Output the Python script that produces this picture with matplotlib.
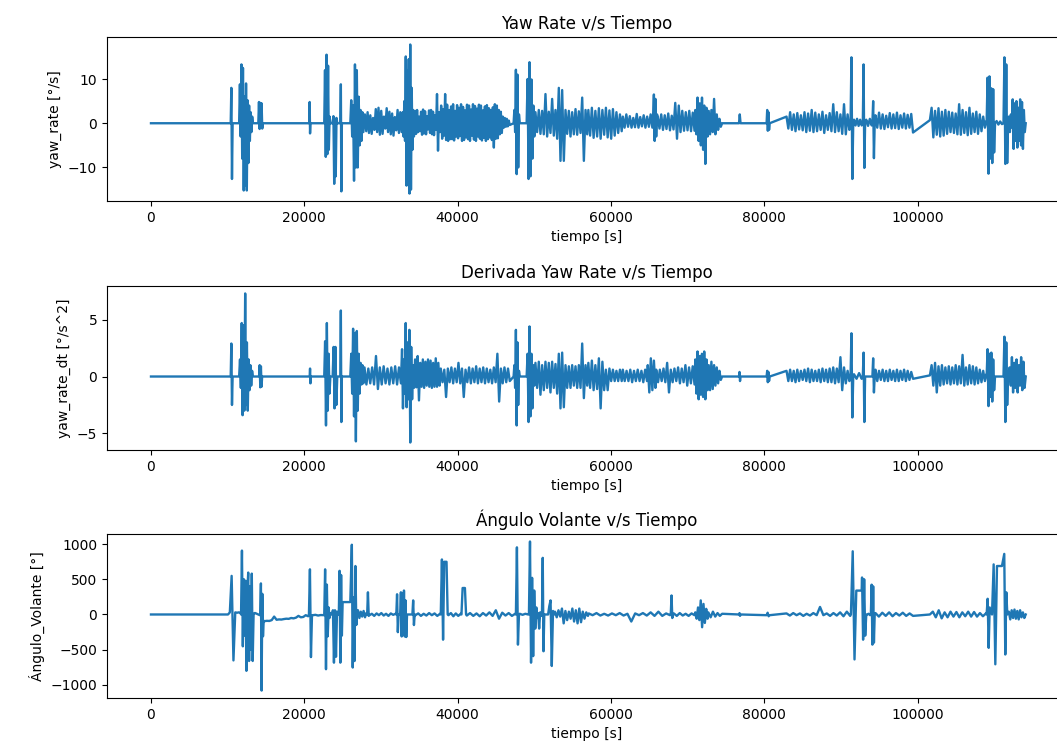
import numpy as np
import matplotlib
matplotlib.use('Agg')
import matplotlib.pyplot as plt

# Bursts of activity: (start time, end time).
# Samples inside a burst are evenly spaced in time; signal sits at 0 between bursts.
yaw_bursts = [
    (10400, 10650, [0, 8.0, -12.6, 0]),
    (11500, 13300, [0, 8.8, -3.0, 13.3, -8.0, 12.5, -15.2, 6.0, -14.0, 9.0, -15.2, 5.2, -9.0, 4.0, -4.0, 2.5, -2.0, 1.5, 0]),
    (14000, 14600, [0, 4.8, -1.3, 4.6, -1.0, 4.5, -1.2, 0]),
    (20650, 20800, [0, 4.8, -2.3, 0]),
    (22600, 23400, [0, 12.0, -7.6, 15.5, -7.0, 13.0, -6.0, 1.5, 0]),
    (23700, 24300, [0, 1.6, -13.7, 1.0, -12.0, 1.2, 0]),
    (24700, 24900, [0, 8.8, -15.4, 0]),
    (26000, 27700, [0, 5.2, -3.0, 4.0, -13.0, 13.3, -10.0, 12.0, -10.0, 6.0, -5.0, 3.0, -4.0, 2.5, -2.0]),
    (27900, 32700, [2.0, -1.8, 2.5, -2.2, 1.8, -2.4, 1.2, -1.5, 3.2, -2.0, 3.5, -2.6, 2.8, -2.4, 1.5, -1.2, 3.4, -2.0,
                    2.6, -2.5, 2.2, -2.8, 1.4, -1.6, 3.0, -2.2, 2.5, -2.0]),
    (32850, 34300, [2.5, -3.0, 5.0, -4.0, 15.1, -14.1, 12.0, -10.0, 14.5, -15.9, 17.8, -15.0, 8.0, -6.0, 3.0, -3.0]),
    (34450, 37700, [2.8, -2.4, 3.0, -2.0, 1.5, -1.8, 2.6, -2.6, 3.1, -2.3, 2.7, -2.5, 1.6, -1.4, 2.9, -2.2, 3.0, -2.5,
                    2.6, -2.7, 1.8, -1.5, 6.6, -6.2, 2.5, -2.0]),
    (37850, 46800, [4.0, -3.5, 3.2, -2.8, 6.6, -3.8, 4.2, -4.0, 3.0, -3.6, 3.8, -3.6, 4.3, -3.9, 2.8, -3.0, 4.1, -3.4, 3.5, -2.9,
                    4.3, -4.0, 3.7, -3.8, 2.9, -3.2, 4.2, -3.6, 4.0, -4.0, 3.1, -2.8, 4.3, -3.7, 3.9, -4.0, 3.3, -3.0, 4.2, -3.5,
                    4.0, -3.9, 2.9, -3.3, 3.8, -4.0, 4.1, -3.6, 3.4, -3.2, 3.0, -3.8, 3.6, -5.5, 4.3, -3.5, 4.0, -3.4, 3.0, -2.5,
                    2.6, -2.2, 1.5, -1.0, 1.2, -0.8, 1.0, -0.7, 0.6, -0.4]),
    (47300, 48100, [0, 3.0, -2.0, 12.1, -11.5, 11.0, -10.0, 2.0, 0]),
    (49000, 50000, [0, 10.0, -12.6, 13.8, -12.0, 9.9, -8.0, 4.0, -3.0]),
    (50150, 56900, [2.5, -2.0, 3.0, -2.4, 2.8, -2.5, 6.6, -3.0, 2.6, -2.2, 5.5, -2.8, 3.0, -3.5, 8.0, -8.5,
                    7.5, -8.5, 3.0, -2.4, 2.8, -3.0, 2.5, -2.5, 3.2, -2.6, 2.7, -2.2, 5.8, -8.5, 3.0, -2.5]),
    (57050, 61400, [3.0, -2.8, 3.5, -3.3, 2.8, -3.0, 3.4, -3.5, 3.0, -2.6, 3.5, -3.2, 2.9, -3.5, 3.2, -2.8, 2.5, -2.2, 2.0, -1.8]),
    (61550, 65400, [1.5, -1.0, 2.0, -0.8, 1.6, -1.0, 1.2, -0.9, 2.1, -1.0, 1.4, -0.7, 1.8, -1.0, 1.5, -0.8, 2.0, -1.0]),
    (65500, 66000, [2.0, 6.5, -4.0, 5.5, -3.0, 2.0]),
    (66100, 70900, [1.5, -1.2, 2.0, -1.5, 1.8, -1.3, 2.2, -1.6, 1.7, -1.4, 4.6, -3.5, 4.0, -2.0, 2.8, -1.7, 2.5, -1.6, 2.8, -1.8, 2.4, -1.7]),
    (71000, 72600, [3.0, -2.5, 5.8, -4.0, 4.5, -5.0, 5.8, -6.0, 4.0, -9.2, 3.5, -3.0]),
    (72750, 74500, [2.8, -2.5, 3.0, -2.0, 5.5, -2.5, 2.0, -1.5, 1.0, -0.8, 0]),
    (76700, 76900, [0, 2.0, 0]),
    (80300, 80700, [0, 3.0, -1.7, 2.5, -1.5, 0]),
    (82900, 91100, [1.5, -1.2, 2.5, -1.5, 2.0, -1.8, 2.3, -1.4, 1.8, -1.6, 2.5, -2.0, 2.2, -1.7, 3.0, -2.0, 2.4, -1.8,
                    2.0, -1.5, 2.6, -2.2, 1.8, -1.5, 2.3, -1.8, 4.3, -2.0, 2.5, -1.8, 2.0, -2.4, 4.3, -2.5, 2.0, -1.5]),
    (91250, 91600, [0, 14.9, -12.6, 0]),
    (91700, 92700, [0.8, -0.5, 1.0, -0.6, 0.8, -0.5]),
    (92850, 93150, [0, 13.3, -10.1, 0]),
    (93300, 94000, [0.8, -0.6, 1.0, -0.5]),
    (94100, 94400, [0, 5.0, -7.9, 0]),
    (94500, 99400, [1.8, -1.0, 2.4, -1.2, 2.0, -1.3, 1.7, -0.9, 2.3, -1.2, 2.0, -1.1, 2.4, -1.3, 1.8, -1.0, 2.2, -1.2, 1.9, -1.0, 2.1, -2.1]),
    (101600, 109000, [0.7, 3.5, -3.2, 2.8, -2.6, 3.4, -3.0, 2.6, -2.8, 3.0, -2.4, 2.6, -2.0, 2.4, -2.2, 2.2, -2.5, 4.3,
                      -2.6, 3.0, -2.2, 2.5, -2.7, 3.5, -2.4, 2.2, -2.0, 2.6, -2.4, 2.0, -1.8, 1.5, -1.0, 0.5]),
    (109000, 110100, [0, 10.3, -11.4, 10.6, -8.0, 7.9, -9.0, 7.7, -6.6, 0]),
    (110300, 111000, [0.5, -0.3, 0.4, -0.2]),
    (111200, 111800, [0, 14.9, -9.2, 13.3, -9.0, 0]),
    (111900, 112300, [1.5, -2.0, 2.0, -1.0]),
    (112400, 114100, [5.4, -5.8, 4.5, -4.0, 5.0, -5.5, 3.5, -4.0, 5.4, -5.0, 4.8, -5.8, 3.0, -2.0, 0]),
]

dyaw_bursts = [
    (10400, 10650, [0, 2.9, -2.5, 0]),
    (11500, 13300, [0, 1.5, -1.0, 4.7, -3.4, 4.5, -3.0, 7.3, -2.5, 3.0, -3.0, 1.5, -1.2, 1.0, -0.8, 0.5, 0]),
    (14100, 14500, [0, 1.0, -0.95, 0.9, -0.9, 0]),
    (20700, 20850, [0, 0.7, -0.6, 0]),
    (22600, 23400, [0, 3.1, -4.3, 4.7, -3.0, 2.0, -1.5, 0]),
    (23700, 24300, [0, 2.6, -2.8, 2.6, -2.5, 0]),
    (24700, 24900, [0, 5.8, -4.0, 0]),
    (26000, 27700, [0, 2.0, -1.5, 4.2, -3.5, 3.8, -5.7, 4.0, -3.0, 2.0, -1.5, 1.2, -0.7, 1.0, -0.6]),
    (27850, 32600, [0.8, -0.7, 0.7, -0.6, 0.8, -0.7, 1.8, -1.1, 0.8, -0.7, 0.9, -0.6, 0.7, -0.7, 0.8, -0.6, 0.9, -0.7, 0.8, -0.6]),
    (32750, 34300, [2.4, -2.8, 1.5, -1.5, 4.7, -2.7, 3.0, -2.0, 4.1, -5.8, 2.6, -2.0, 1.0, -1.0]),
    (34450, 37650, [1.5, -0.95, 1.8, -2.1, 1.2, -0.9, 1.5, -1.0, 1.3, -0.8, 1.5, -0.9, 1.4, -1.0, 1.2, -0.9, 1.6, -0.9, 1.2, -0.8]),
    (37800, 46800, [0.7, -0.5, 0.6, -1.8, 0.7, -0.5, 0.8, -0.6, 0.7, -0.5, 1.2, -0.6, 0.7, -1.8, 0.6, -0.5, 0.8, -0.6, 0.7, -0.5,
                    0.9, -0.6, 0.7, -0.5, 0.8, -0.6, 0.7, -0.5, 0.6, -0.6, 0.8, -0.5, 2.0, -2.2, 0.7, -0.6, 0.8, -0.5, 0.7, -0.4]),
    (47300, 48100, [0, 1.0, -1.0, 4.1, -4.3, 3.0, -2.5, 0.5, 0]),
    (49000, 50000, [0, 2.0, -4.0, 4.4, -3.5, 2.0, -2.8, 1.0, -0.8]),
    (50150, 56900, [1.2, -1.0, 1.3, -1.6, 1.0, -1.2, 1.3, -1.0, 1.2, -1.4, 1.3, -1.0, 1.1, -1.5, 2.0, -2.8,
                    2.1, -2.7, 1.0, -1.0, 0.9, -1.0, 1.0, -0.8, 0.9, -1.0, 1.0, -1.0, 2.9, -1.9, 1.0, -0.8]),
    (57050, 61400, [1.2, -1.0, 1.4, -1.2, 1.0, -1.1, 1.6, -2.8, 1.3, -1.2, 0.6, -1.2, 0.7, -0.4, 0.6, -0.4, 0.5, -0.4, 0.6, -0.4]),
    (61550, 64700, [0.6, -0.4, 0.5, -0.4, 0.6, -0.5, 0.5, -0.4, 0.6, -0.4, 0.5, -0.5, 0.6, -0.4]),
    (64800, 65800, [1.0, -1.4, 1.6, -1.2, 1.4, -1.0]),
    (65900, 70900, [0.6, -0.5, 0.6, -0.4, 0.7, -0.5, 1.2, -1.4, 0.6, -0.5, 0.7, -0.4, 0.8, -0.6, 0.7, -0.5, 1.0, -0.8, 0.8, -0.6, 0.9, -0.7]),
    (71000, 72600, [1.5, -1.5, 2.2, -2.0, 1.8, -1.6, 2.0, -1.8, 2.2, -2.0, 1.5, -1.2]),
    (72750, 74500, [1.0, -1.2, 1.3, -1.1, 1.0, -0.8, 0.8, -0.6, 0.5, -0.3, 0]),
    (76700, 76900, [0, 0.4, -0.4, 0]),
    (80300, 80700, [0, 0.5, -0.5, 0.4, -0.4, 0]),
    (82900, 91100, [0.5, -0.4, 0.6, -0.4, 0.5, -0.5, 0.6, -0.4, 0.5, -0.3, 0.6, -0.4, 0.7, -0.5, 0.6, -0.4, 0.5, -0.4,
                    0.6, -0.5, 0.7, -0.4, 0.6, -0.5, 0.7, -0.5, 0.8, -0.6, 0.7, -0.5, 1.7, -1.2, 0.8, -0.6, 0.5, -0.4]),
    (91250, 91600, [0, 3.8, -3.6, 0]),
    (91700, 92700, [0.2, -0.2, 0.3, -0.2]),
    (92850, 93150, [0, 2.1, -4.0, 0]),
    (94100, 94400, [0, 1.6, -1.4, 0]),
    (94500, 99400, [0.6, -0.4, 0.5, -0.3, 0.6, -0.4, 0.5, -0.4, 0.6, -0.3, 0.5, -0.4, 0.6, -0.4, 0.5, -0.3, 0.6, -0.4, 0.5, -0.3, 0.4, -0.2]),
    (101600, 109000, [0.1, 1.0, -0.8, 1.2, -1.4, 0.9, -0.8, 1.0, -0.7, 0.8, -0.6, 0.9, -0.7, 0.8, -0.6, 1.0, -0.7, 0.9,
                      -0.6, 1.9, -0.8, 0.8, -0.7, 1.0, -0.6, 0.9, -0.7, 0.8, -0.6, 0.6, -0.5, 0.5, -0.4, 0.2]),
    (109000, 110100, [0, 2.4, -2.6, 2.0, -1.8, 2.1, -2.2, 1.5, -1.2, 0]),
    (111200, 111800, [0, 3.5, -4.0, 3.0, -2.5, 0]),
    (112000, 114100, [0.8, -0.8, 1.7, -1.4, 1.2, -1.0, 1.5, -1.4, 1.0, -0.8, 1.7, -1.2, 1.3, -1.0, 0]),
]

angle_bursts = [
    (10050, 11700, [0, 30, 548, -652, 30, 25, 30, 20]),
    (11750, 13500, [0, 907, -452, 502, -300, 480, -800, 300, 595, -660, 400, -500, 580, -660, 0, 20]),
    (13600, 14200, [20, 10, 0, -10]),
    (14250, 14700, [0, 441, -1080, 293, -310, -89]),
    (14800, 20500, [-95, -90, -92, -80, -30, -75, -70, -72, -65, -60, -62, -50, -55, -45, -20, -40, -35, -10, -25]),
    (20600, 21000, [-20, 641, -605, -10]),
    (21100, 22500, [-10, -5, -15, -8, -10]),
    (22600, 23400, [-10, 641, -777, 424, -310, 100, -50, 20]),
    (23600, 24400, [0, 60, -684, 60, -600, 40, 0]),
    (24500, 25000, [0, 620, -684, 560, -300, 176]),
    (25300, 26000, [176, 176]),
    (26200, 26900, [990, -753, 246, -661, 688, -149, 60]),
    (27000, 28100, [60, -50, 40, -30, 50, -40, 20]),
    (28200, 28400, [0, 315, -20]),
    (28500, 31900, [-10, 10, -20, 15, -10, 20, -15, 10, -20, 15, -5, 10]),
    (32000, 32300, [0, 287, -251, 0]),
    (32500, 33400, [0, 315, -312, 300, -280, 340, -312, 200, -320, 0]),
    (34100, 34400, [0, 200, -150, 0]),
    (34500, 37700, [-10, 15, -20, 10, -15, 20, -10, 15, -20, 10]),
    (37800, 38700, [0, 781, -358, 748, 748, 748, 0]),
    (38800, 40400, [-10, 20, -25, 15, -20, 10]),
    (40500, 41100, [0, 376, 376, 376, 0]),
    (41200, 47500, [-15, 20, -20, 15, -25, 20, -15, 30, -20, 60, -60, 25, -15, 20, -20, 10]),
    (47600, 48000, [0, 953, -428, 0]),
    (48100, 49200, [10, -5, 10, 0]),
    (49300, 50400, [0, 1036, -684, 520, -591, 340, -200, 100, -50]),
    (50500, 50900, [20, -200, 30, -20]),
    (51000, 51300, [0, 804, -522, 0]),
    (51800, 52600, [0, 120, 200, -731, 50, 0]),
    (52700, 57000, [40, -40, 60, -30, 84, -126, 50, -80, 40, -60, 84, -100, 60, -126, 84, -110, 40, -60, 30, -20]),
    (57100, 67700, [15, -10, 20, -15, 10, -15, 15, -10, 20, -15, 10, -100, 15, -10, 20, -15, 30, -20, 40, -20, 15, -10]),
    (67800, 68100, [0, 270, -50, 0]),
    (68200, 70900, [15, -20, 20, -15, 10, -20, 15, -10]),
    (71000, 72600, [30, -60, 100, -80, 200, -181, 150, -120, 80, -60]),
    (72700, 74500, [30, -40, 40, -30, 20, -20, 10]),
    (76700, 76900, [0, 20, -20, 0]),
    (80300, 80700, [-10, 25, -25, -10]),
    (82900, 91200, [15, -15, 20, -10, 15, -20, 10, -15, 20, -10, 107, -10, 15, -20, 20, -15, 30, -25, 40, -20]),
    (91300, 92700, [0, 897, -638, 339, 339, 339, 339]),
    (92750, 93300, [525, -358, 500, -300, 0]),
    (93400, 93800, [0, 10, -10]),
    (93900, 94400, [0, 423, -428, 400, -400, 0]),
    (94500, 99400, [20, -30, 25, -20, 30, -25, 20, -15, 25, -20, 15, -20]),
    (101600, 108900, [0, 40, -40, 60, -55, 30, -40, 40, -30, 35, -40, 30, -25, 40, -30, 35, -30, 20, -25, 15]),
    (109000, 109400, [0, 223, -474, 100]),
    (109700, 111000, [0, 711, -707, 688, 688, 688, 688]),
    (111300, 111700, [860, -568, 315, 0]),
    (111900, 114100, [40, -70, 60, -50, 70, -60, 50, -70, 60, -40, 30, -50, 0]),
]

titles = ['Yaw Rate v/s Tiempo', 'Derivada Yaw Rate v/s Tiempo', 'Ángulo Volante v/s Tiempo']
ylabels = ['yaw_rate [°/s]', 'yaw_rate_dt [°/s^2]', 'Ángulo_Volante [°]']


def build(bursts):
    t = [0.0]
    v = [0.0]
    for t0, t1, vals in bursts:
        t.extend(np.linspace(t0, t1, len(vals)))
        v.extend(vals)
    return np.array(t), np.array(v)


fig = plt.figure(figsize=(10.57, 7.44), dpi=100)
bottoms = [0.7298, 0.3952, 0.0618]
for bursts, title, ylab, b in zip([yaw_bursts, dyaw_bursts, angle_bursts], titles, ylabels, bottoms):
    # the original screenshot cuts off the right side of each panel
    ax = fig.add_axes([0.1012, b, 0.9082, 0.2204])
    t, v = build(bursts)
    ax.plot(t, v, color='#1f77b4', lw=1.7)
    ax.set_xlim(-5740, 119475)
    ax.set_title(title, fontsize=12)
    ax.set_xlabel('tiempo [s]')
    ax.set_ylabel(ylab)

fig.savefig('out.png', dpi=100)
